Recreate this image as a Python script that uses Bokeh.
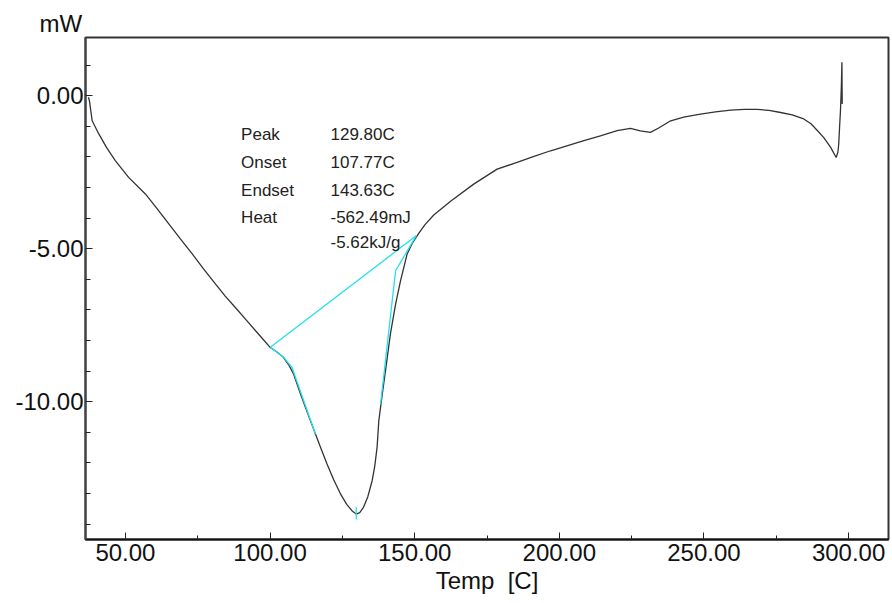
from bokeh.plotting import figure
from bokeh.models import Range1d, FixedTicker, PrintfTickFormatter, ColumnDataSource
from bokeh.core.properties import value
from bokeh.embed import file_html
from bokeh.resources import INLINE

# DSC curve (Temp [C], heat flow [mW])
temp = [37.2, 37.55, 38.5, 40.8, 43.5, 46.5, 51.1, 56.9, 61.0, 65.0, 69.0, 73.1, 77.0,
        81.1, 84.5, 88.0, 91.5, 95.0, 97.5, 100.1, 102.5, 104.6, 106.5, 108.1, 110.5,
        113.0, 115.7, 117.7, 119.7, 122.0, 124.3, 126.5, 128.5, 129.8, 131.0, 132.3,
        133.8, 135.3, 136.2, 137.0, 137.6, 138.8, 139.9, 141.6, 143.4, 145.1, 147.4,
        149.3, 151.4, 153.5, 156.6, 162.4, 170.4, 178.5, 185.4, 191.0, 197.0, 208.5,
        214.2, 220.0, 224.6, 228.0, 231.5, 234.5, 238.5, 243.0, 248.8, 254.0, 259.2,
        264.0, 268.4, 272.5, 276.5, 280.5, 284.5, 287.0, 289.2, 291.5, 293.8, 295.7,
        296.3, 296.6, 296.9, 297.2, 297.5, 297.7, 297.75, 297.8]
heat = [-0.05, -0.16, -0.82, -1.25, -1.7, -2.12, -2.67, -3.21, -3.7, -4.19, -4.68, -5.17,
        -5.66, -6.15, -6.55, -6.92, -7.3, -7.68, -7.95, -8.23, -8.38, -8.55, -8.8, -9.09,
        -9.74, -10.38, -11.05, -11.55, -12.03, -12.55, -13.0, -13.35, -13.58, -13.67,
        -13.62, -13.45, -13.1, -12.58, -12.1, -11.49, -10.62, -9.75, -8.99, -7.79, -6.81,
        -6.05, -5.17, -4.8, -4.5, -4.22, -3.9, -3.45, -2.89, -2.4, -2.18, -1.99, -1.8,
        -1.47, -1.31, -1.14, -1.07, -1.15, -1.2, -1.05, -0.82, -0.7, -0.6, -0.53, -0.47,
        -0.45, -0.45, -0.48, -0.55, -0.63, -0.76, -0.92, -1.14, -1.38, -1.69, -2.02,
        -1.85, -1.58, -1.0, -0.49, 0.3, 1.09, 0.3, -0.27]

# analysis construction lines
base_t = [100.1, 150.5]
base_h = [-8.22, -4.58]
onset_t = [100.1, 104.7, 107.6, 115.7]
onset_h = [-8.22, -8.55, -8.88, -11.06]
endset_t = [150.5, 143.4, 138.2]
endset_h = [-4.58, -5.72, -10.08]
peak_t = [129.8, 129.8]
peak_h = [-13.45, -13.85]

# annotation table
names = ["Peak", "Onset", "Endset", "Heat", ""]
values = ["129.80C", "107.77C", "143.63C", "-562.49mJ", "-5.62kJ/g"]
row_h = [-1.27, -2.18, -3.10, -3.99, -4.80]
name_t = 90.0
value_t = 120.9

x_major = [50, 100, 150, 200, 250, 300]
x_minor = [75, 125, 175, 225, 275]
y_major = [0, -5, -10]
y_minor = [1, -1, -2, -3, -4, -6, -7, -8, -9, -11, -12, -13, -14]

FONT = "Liberation Sans"

p = figure(width=892, height=603, output_backend="svg", toolbar_location=None,
           x_range=Range1d(36.2, 313.8), y_range=Range1d(-14.5, 1.9),
           min_border_left=85, min_border_right=4, min_border_top=37, min_border_bottom=64,
           title="mW")
p.title.align = "left"
p.title.offset = -46
p.title.standoff = 2
p.title.text_font = FONT
p.title.text_font_size = "24px"
p.title.text_font_style = "normal"
p.title.text_color = "#111111"

p.background_fill_color = "white"
p.border_fill_color = "white"
p.grid.visible = False
p.outline_line_color = "#333333"
p.outline_line_width = 2

p.xaxis.ticker = FixedTicker(ticks=x_major, minor_ticks=x_minor)
p.yaxis.ticker = FixedTicker(ticks=y_major, minor_ticks=y_minor)
for ax in (p.xaxis, p.yaxis):
    ax.formatter = PrintfTickFormatter(format="%.2f")
    ax.major_tick_in = 7
    ax.major_tick_out = 0
    ax.minor_tick_in = 4
    ax.minor_tick_out = 0
    ax.axis_line_width = 2
    ax.major_tick_line_color = "#222222"
    ax.minor_tick_line_color = "#222222"
    ax.major_label_text_font = FONT
    ax.major_label_text_font_size = "24px"
    ax.major_label_text_color = "#111111"
p.yaxis.axis_line_color = "#444444"
p.xaxis.axis_line_color = "#111111"
p.yaxis.minor_tick_in = 5
p.yaxis.major_label_standoff = 2
p.xaxis.major_label_standoff = 4
p.xaxis.axis_label = "Temp\u00a0\u00a0[C]"
p.xaxis.axis_label_text_font = FONT
p.xaxis.axis_label_text_font_size = "24px"
p.xaxis.axis_label_text_font_style = "normal"
p.xaxis.axis_label_text_color = "#111111"
p.xaxis.axis_label_standoff = 3

src = ColumnDataSource(dict(t=temp, h=heat))
p.line("t", "h", source=src, line_color="#333333", line_width=1.3)

p.line(base_t, base_h, line_color="#22e0ee", line_width=1.3)
p.line(onset_t, onset_h, line_color="#22e0ee", line_width=1.3)
p.line(endset_t, endset_h, line_color="#22e0ee", line_width=1.3)
p.line(peak_t, peak_h, line_color="#22e0ee", line_width=1.3)

p.text(x=[name_t] * len(names), y=row_h, text=names, text_font=value(FONT),
       text_font_size="17px", text_baseline="middle", text_color="#222222")
p.text(x=[value_t] * len(values), y=row_h, text=values, text_font=value(FONT),
       text_font_size="17px", text_baseline="middle", text_color="#222222")

open("out.html", "w").write(file_html(p, INLINE))
